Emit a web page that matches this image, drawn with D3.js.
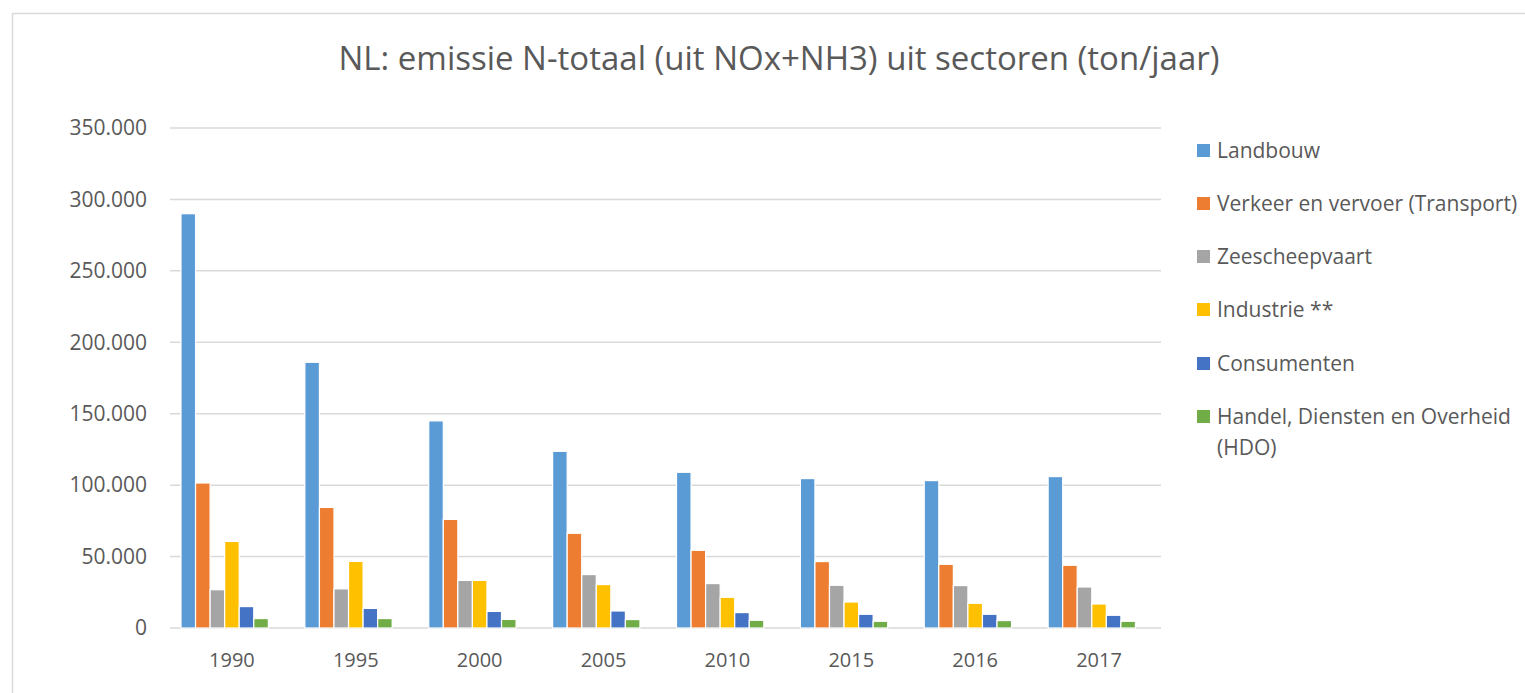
<!DOCTYPE html>
<html>
<head>
<meta charset="utf-8">
<script src="https://cdn.jsdelivr.net/npm/d3@7"></script>
<style>
  body { margin: 0; background: #fff; }
  text { font-family: "Open Sans", "Noto Sans", sans-serif; fill: #595959; }
</style>
</head>
<body>
<div id="chart"></div>
<script>
// Data (ton/jaar)
const years = ["1990", "1995", "2000", "2005", "2010", "2015", "2016", "2017"];
const series = ["Landbouw", "Verkeer en vervoer (Transport)", "Zeescheepvaart", "Industrie **", "Consumenten", "Handel, Diensten en Overheid (HDO)"];
const colors = ["#5b9bd5", "#ed7d31", "#a5a5a5", "#ffc000", "#4472c4", "#70ad47"];
const landbouw    = [290000, 186000, 145000, 123700, 109000, 104600, 103200, 106000];
const verkeer     = [101500, 84400, 76000, 66300, 54400, 46500, 44600, 43900];
const zeevaart    = [26800, 27400, 33300, 37400, 31100, 29900, 29700, 28700];
const industrie   = [60600, 46600, 33300, 30400, 21500, 18200, 17300, 16800];
const consumenten = [15000, 13700, 11600, 11900, 10800, 9600, 9600, 8900];
const hdo         = [6600, 6600, 6000, 5900, 5400, 4700, 5200, 4700];
const yTicks = [0, 50000, 100000, 150000, 200000, 250000, 300000, 350000];

const values = [landbouw, verkeer, zeevaart, industrie, consumenten, hdo];

const width = 1525, height = 693;
const margin = { left: 170, right: 364, top: 128, bottom: 65 };

const svg = d3.select("#chart")
    .append("svg")
    .attr("width", width)
    .attr("height", height);

// Rand van het grafiekgebied
svg.append("rect")
    .attr("x", 12.5).attr("y", 13.5)
    .attr("width", width).attr("height", height)
    .attr("fill", "none")
    .attr("stroke", "#d9d9d9")
    .attr("stroke-width", 1.5);

// Titel
svg.append("text")
    .attr("x", 779)
    .attr("y", 70)
    .attr("text-anchor", "middle")
    .attr("font-size", "33px")
    .text("NL: emissie N-totaal (uit NOx+NH3) uit sectoren (ton/jaar)");

const x0 = d3.scaleBand()
    .domain(years)
    .range([margin.left, width - margin.right]);

// 7 plaatsen per groep (Excel laat een lege plek achteraan)
const x1 = d3.scaleBand()
    .domain(d3.range(7))
    .range([11, x0.bandwidth() - 11])
    .paddingInner(0.0);

const y = d3.scaleLinear()
    .domain([0, 350000])
    .range([height - margin.bottom, margin.top]);

// Rasterlijnen
svg.append("g")
    .selectAll("line")
    .data(yTicks)
    .enter()
    .append("line")
    .attr("x1", margin.left)
    .attr("x2", width - margin.right)
    .attr("y1", d => y(d))
    .attr("y2", d => y(d))
    .attr("stroke", "#d9d9d9")
    .attr("stroke-width", 1.5);

// Y-as labels
const fmt = d => d === 0 ? "0" : d3.format(",")(d).replace(/,/g, ".");
svg.append("g")
    .selectAll("text")
    .data(yTicks)
    .enter()
    .append("text")
    .attr("x", 147)
    .attr("y", d => y(d))
    .attr("dy", "0.35em")
    .attr("text-anchor", "end")
    .attr("font-size", "21px")
    .text(fmt);

// Balken
const groups = svg.append("g")
    .selectAll("g")
    .data(years)
    .enter()
    .append("g")
    .attr("transform", d => `translate(${x0(d)},0)`);

groups.selectAll("rect")
    .data((d, i) => values.map((v, s) => ({ s: s, v: v[i] })))
    .enter()
    .append("rect")
    .attr("x", d => x1(d.s))
    .attr("y", d => y(d.v))
    .attr("width", x1.bandwidth())
    .attr("height", d => y(0) - y(d.v))
    .attr("fill", d => colors[d.s])
    .attr("stroke", "#fff")
    .attr("stroke-width", 1.2);

// X-as labels
svg.append("g")
    .selectAll("text")
    .data(years)
    .enter()
    .append("text")
    .attr("x", d => x0(d) + x0.bandwidth() / 2)
    .attr("y", 667)
    .attr("text-anchor", "middle")
    .attr("font-size", "20px")
    .text(d => d);

// Legenda
const legendY = [151, 204, 257, 310, 364, 417];
const legend = svg.append("g")
    .selectAll("g")
    .data(series)
    .enter()
    .append("g")
    .attr("transform", (d, i) => `translate(1197,${legendY[i]})`);

legend.append("rect")
    .attr("x", 0).attr("y", -7)
    .attr("width", 13).attr("height", 13)
    .attr("fill", (d, i) => colors[i]);

legend.append("text")
    .attr("x", 20)
    .attr("dy", "0.35em")
    .attr("font-size", "21px")
    .each(function(d) {
        const t = d3.select(this);
        if (d.startsWith("Handel")) {
            t.append("tspan").attr("x", 20).text("Handel, Diensten en Overheid");
            t.append("tspan").attr("x", 20).attr("dy", "1.47em").text("(HDO)");
        } else {
            t.text(d);
        }
    });
</script>
</body>
</html>
